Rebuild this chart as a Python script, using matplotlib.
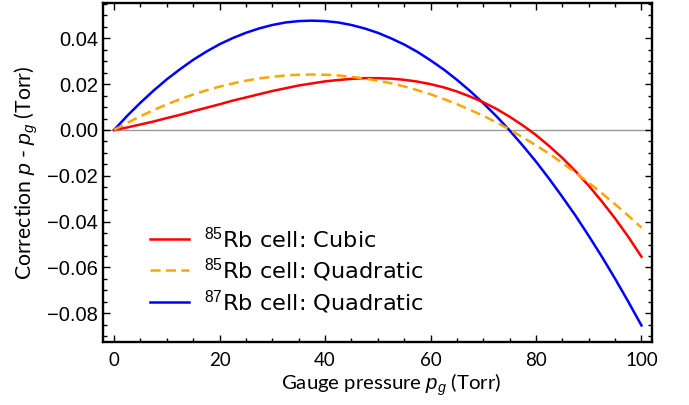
import numpy as np
import matplotlib.pyplot as plt
from matplotlib.ticker import MultipleLocator, FuncFormatter

# Gauge pressure (Torr) and read-off corrections p - p_g (Torr)
pg = [0, 2.5, 5, 7.5, 10, 12.5, 15, 17.5, 20, 22.5, 25, 27.5, 30, 32.5, 35, 37.5, 40, 42.5, 45, 47.5, 50,
      52.5, 55, 57.5, 60, 62.5, 65, 67.5, 70, 72.5, 75, 77.5, 80, 82.5, 85, 87.5, 90, 92.5, 95, 97.5, 100]

rb85_cubic = [0.0, 0.0011, 0.0024, 0.0037, 0.0052, 0.0066, 0.0082, 0.0097, 0.0112, 0.0128, 0.0142,
              0.0156, 0.0170, 0.0182, 0.0194, 0.0203, 0.0212, 0.0218, 0.0223, 0.0226, 0.0226,
              0.0224, 0.0219, 0.0211, 0.0200, 0.0186, 0.0168, 0.0146, 0.0121, 0.0092, 0.0058,
              0.0020, -0.0022, -0.0070, -0.0122, -0.0180, -0.0243, -0.0312, -0.0386, -0.0466, -0.0553]
rb85_quad = [0.0, 0.0031, 0.0060, 0.0087, 0.0112, 0.0134, 0.0155, 0.0173, 0.0189, 0.0203, 0.0215,
             0.0225, 0.0232, 0.0238, 0.0241, 0.0242, 0.0241, 0.0238, 0.0232, 0.0225, 0.0215,
             0.0204, 0.0190, 0.0174, 0.0156, 0.0135, 0.0113, 0.0088, 0.0062, 0.0033, 0.0002,
             -0.0032, -0.0067, -0.0104, -0.0144, -0.0186, -0.0230, -0.0276, -0.0324, -0.0374, -0.0426]
rb87_quad = [0.0, 0.0062, 0.0119, 0.0172, 0.0221, 0.0265, 0.0306, 0.0342, 0.0374, 0.0401, 0.0424,
             0.0443, 0.0458, 0.0469, 0.0475, 0.0477, 0.0475, 0.0469, 0.0458, 0.0443, 0.0424,
             0.0400, 0.0373, 0.0341, 0.0304, 0.0264, 0.0219, 0.0170, 0.0117, 0.0060, -0.0002,
             -0.0068, -0.0138, -0.0213, -0.0292, -0.0374, -0.0462, -0.0553, -0.0649, -0.0749, -0.0853]

labels = [r'$^{85}$Rb cell: Cubic', r'$^{85}$Rb cell: Quadratic', r'$^{87}$Rb cell: Quadratic']

plt.rcParams['mathtext.fontset'] = 'custom'
plt.rcParams['mathtext.rm'] = 'Liberation Sans'
plt.rcParams['mathtext.it'] = 'Liberation Sans:italic'

fig = plt.figure(figsize=(6.89, 4.05), dpi=100)
ax = fig.add_axes([0.1495, 0.1556, 0.7968, 0.837])

ax.axhline(0, color='#999999', lw=1.0, zorder=1)
ax.plot(pg, rb85_cubic, color='#ff0000', lw=1.8, label=labels[0], zorder=3)
ax.plot(pg, rb85_quad, color='#ffa500', lw=1.8, dashes=(4, 2.2), label=labels[1], zorder=3)
ax.plot(pg, rb87_quad, color='#0000ff', lw=1.8, label=labels[2], zorder=2)

ax.set_xlim(-2.1, 102)
ax.set_ylim(-0.0925, 0.0554)

ax.xaxis.set_major_locator(MultipleLocator(20))
ax.xaxis.set_minor_locator(MultipleLocator(5))
ax.yaxis.set_major_locator(MultipleLocator(0.02))
ax.yaxis.set_minor_locator(MultipleLocator(0.005))
ax.yaxis.set_major_formatter(FuncFormatter(lambda v, p: ('%.2f' % v).replace('-', '\u2212')))

ax.tick_params(which='both', direction='in', top=True, right=True, width=1.0)
ax.tick_params(which='major', length=5)
ax.tick_params(which='minor', length=3)
ax.tick_params(axis='x', pad=7)
for lab in ax.get_xticklabels():
    lab.set_fontfamily('Lato')
    lab.set_fontsize(13.5)
for lab in ax.get_yticklabels():
    lab.set_fontfamily('Liberation Sans')
    lab.set_fontsize(14.5)

for sp in ax.spines.values():
    sp.set_linewidth(1.7)

ax.set_xlabel(r'Gauge pressure $p_g$ (Torr)', fontfamily='Lato', fontsize=14.7, labelpad=-1)
ax.xaxis.set_label_coords(0.525, -0.088)
ax.set_ylabel(r'Correction $p$ - $p_g$ (Torr)', fontfamily='Lato', fontsize=15.3, labelpad=5)

leg = ax.legend(loc='lower left', bbox_to_anchor=(0.07, 0.05), frameon=False,
                prop={'family': 'DejaVu Sans', 'size': 16.2}, handlelength=1.7,
                handletextpad=0.7, labelspacing=0.2, borderaxespad=0)

fig.savefig('out.png', dpi=100)
